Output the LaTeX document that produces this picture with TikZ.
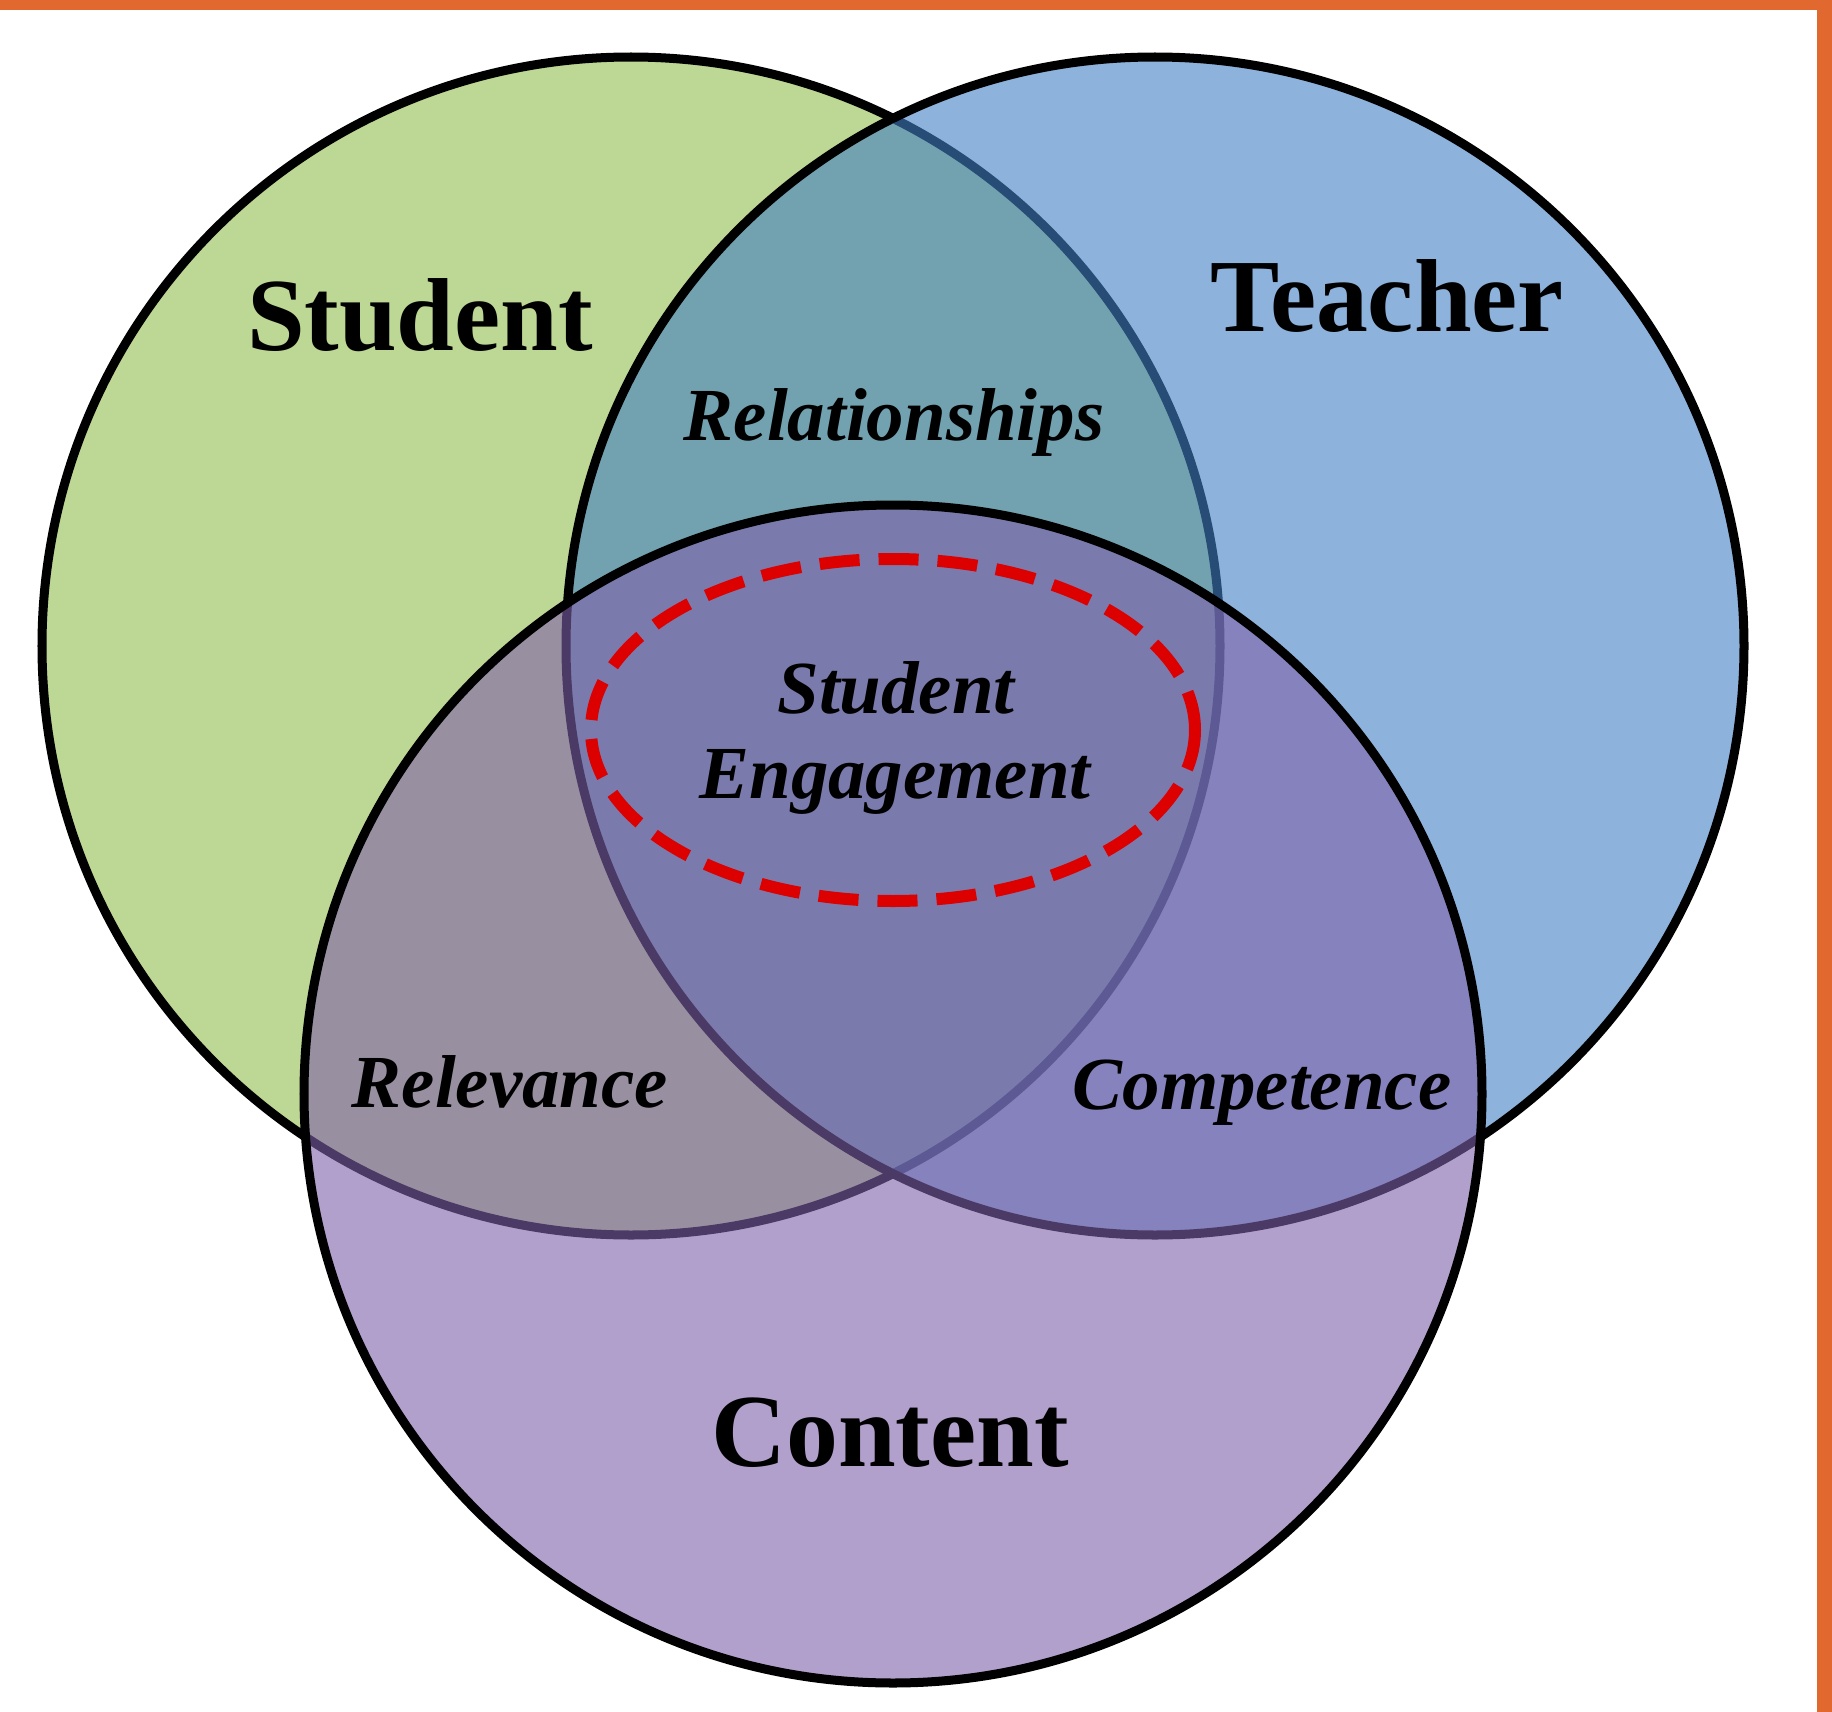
\documentclass[tikz,border=0pt]{standalone}
\usepackage{fontspec}
\setmainfont{Liberation Serif}
\usepackage{xcolor}
\usepackage{tikz}

\definecolor{stugreen}{RGB}{189,215,148}
\definecolor{teablue}{RGB}{65,128,195}
\definecolor{conpurple}{RGB}{128,98,170}
\definecolor{edgeorange}{RGB}{225,104,46}
\definecolor{engred}{RGB}{220,0,0}

\begin{document}
\begin{tikzpicture}[x=0.01cm,y=-0.01cm]
\tikzset{ring/.style={draw=black,line width=0.09cm},
  glass/.style={ring,fill opacity=0.6},
  heading/.style={font=\fontsize{29.5}{30}\selectfont\bfseries,anchor=base,inner sep=0pt},
  overlap/.style={font=\fontsize{21.3}{24}\selectfont\bfseries\itshape,anchor=base,inner sep=0pt}}
\useasboundingbox (0,0) rectangle (1832,1712);
\fill[white] (0,0) rectangle (1832,1712);
\fill[edgeorange] (0,0) rectangle (1832,10);
\fill[edgeorange] (1817,0) rectangle (1832,1712);

\coordinate (stu) at (631,646);
\coordinate (tea) at (1155,646);
\coordinate (con) at (893,1094);

\filldraw[ring,fill=stugreen] (stu) circle [radius=589];
\filldraw[glass,fill=teablue] (tea) circle [radius=589];
\filldraw[glass,fill=conpurple] (con) circle [radius=589];

% engagement ring
\draw[engred,line width=0.12cm,dash pattern=on 0.4cm off 0.19cm] (893,730) ellipse [x radius=302,y radius=171];

\node[heading] (stulbl) at (420,350) {Student};
\node[heading] (tealbl) at (1387,331) {Teacher};
\node[heading] (conlbl) at (890,1466) {Content};
\node[overlap] (rellbl) at (894,440) {Relationships};
\node[overlap] (englbla) at (896,713) {Student};
\node[overlap] (englblb) at (895,798) {Engagement};
\node[overlap] (rvnlbl) at (510,1107) {Relevance};
\node[overlap] (cmplbl) at (1262,1109) {Competence};
\end{tikzpicture}
\end{document}
